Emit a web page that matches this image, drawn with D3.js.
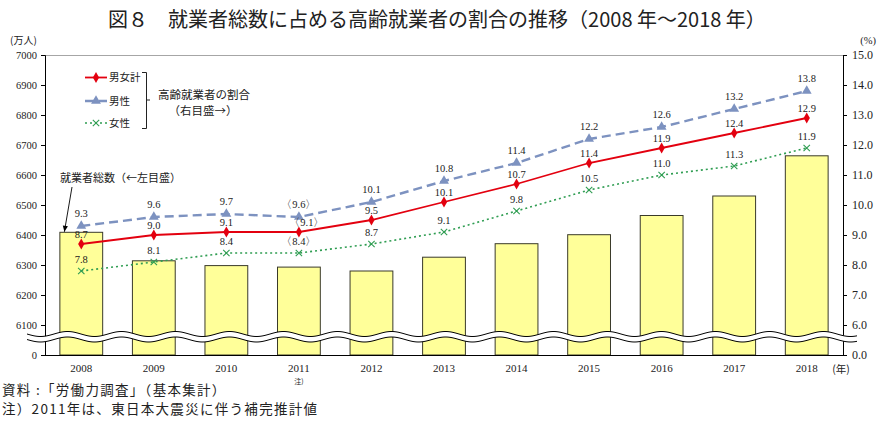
<!DOCTYPE html>
<html><head><meta charset="utf-8">
<script src="https://cdn.jsdelivr.net/npm/d3@7"></script>
<style>
html,body{margin:0;padding:0;background:#fff;}
svg{display:block;}
</style></head>
<body>
<svg id="chart" width="885" height="427"></svg>
<script>
// ---- data ----
const years = ["2008","2009","2010","2011","2012","2013","2014","2015","2016","2017","2018"];
const employedTotal = [6409,6314,6298,6293,6280,6326,6371,6401,6465,6530,6664];
const ratioTotal = [8.7,9.0,9.1,9.1,9.5,10.1,10.7,11.4,11.9,12.4,12.9];
const ratioMale = [9.3,9.6,9.7,9.6,10.1,10.8,11.4,12.2,12.6,13.2,13.8];
const ratioFemale = [7.8,8.1,8.4,8.4,8.7,9.1,9.8,10.5,11.0,11.3,11.9];
const leftTickValues = [6000,6100,6200,6300,6400,6500,6600,6700,6800,6900,7000];
const leftTickLabels = ["0","6100","6200","6300","6400","6500","6600","6700","6800","6900","7000"];
const rightTickValues = [5,6,7,8,9,10,11,12,13,14,15];
const rightTickLabels = ["0.0","6.0","7.0","8.0","9.0","10.0","11.0","12.0","13.0","14.0","15.0"];
const noteYear = "2011";
const seriesNames = ["男女計","男性","女性"];

// ---- layout ----
const svg = d3.select("#chart");
const L = 45, R = 843, T = 55, B = 355;
const JP = "'Noto Sans CJK JP', sans-serif";
const NUM = "'Liberation Serif', serif";

const x = d3.scaleBand().domain(years).range([L, R]).paddingInner(0.41).paddingOuter(0.205);
const yL = d3.scaleLinear().domain([6000, 7000]).range([B, T]);
const yR = d3.scaleLinear().domain([5, 15]).range([B, T]);

// title
svg.append("text").attr("x", 437).attr("y", 27).attr("text-anchor", "middle")
  .attr("font-family", JP).attr("font-size", 20).attr("fill", "#222")
  .text("図８　就業者総数に占める高齢就業者の割合の推移（2008 年～2018 年）");

svg.append("text").attr("x", 10).attr("y", 44).attr("font-family", JP).attr("font-size", 10).attr("fill", "#222").text("(万人)");
svg.append("text").attr("x", 876).attr("y", 44).attr("text-anchor", "end").attr("font-family", NUM).attr("font-size", 10.5).attr("fill", "#222").text("(%)");

// top border
svg.append("line").attr("x1", L).attr("x2", R).attr("y1", T + 0.5).attr("y2", T + 0.5).attr("stroke", "#a6a6a6").attr("stroke-width", 1);

// bars
svg.append("g").selectAll("rect").data(years).join("rect")
  .attr("x", d => x(d)).attr("width", x.bandwidth())
  .attr("y", (d, i) => yL(employedTotal[i])).attr("height", (d, i) => B - yL(employedTotal[i]))
  .attr("fill", "#ffff99").attr("stroke", "#3a3a2a").attr("stroke-width", 1);

// axes
const gl = svg.append("g").attr("transform", `translate(${L},0)`)
  .call(d3.axisLeft(yL).tickValues(leftTickValues).tickSize(4).tickPadding(4)
    .tickFormat((d, i) => leftTickLabels[i]));
const gr = svg.append("g").attr("transform", `translate(${R},0)`)
  .call(d3.axisRight(yR).tickValues(rightTickValues).tickSize(4).tickPadding(5)
    .tickFormat((d, i) => rightTickLabels[i]));
gl.selectAll("text").attr("font-family", NUM).attr("font-size", 10.5).attr("fill", "#222");
gr.selectAll("text").attr("font-family", NUM).attr("font-size", 12).attr("fill", "#222");
[gl, gr].forEach(g => { g.select(".domain").attr("stroke", "#000"); g.selectAll(".tick line").attr("stroke", "#000"); });

const gb = svg.append("g").attr("transform", `translate(0,${B})`)
  .call(d3.axisBottom(x).tickSize(0).tickPadding(9));
gb.select(".domain").attr("stroke", "#000").attr("d", `M${L},0.5H${R}`);
gb.selectAll("text").attr("font-family", NUM).attr("font-size", 11).attr("fill", "#222");
svg.append("text").attr("x", x(noteYear) + x.bandwidth() / 2).attr("y", 384).attr("text-anchor", "middle")
  .attr("font-family", JP).attr("font-size", 7).attr("fill", "#222").text("注)");
svg.append("text").attr("x", 841).attr("y", 373).attr("text-anchor", "middle")
  .attr("font-family", JP).attr("font-size", 10.5).attr("fill", "#222").text("(年)");

// wavy break
(function () {
  const x0 = 27, x1 = 857, P = 54, A = 2.5, base1 = 334, base2 = 339.5;
  const pts = (base) => d3.range(x0, x1 + 0.5, 1).map(xx => [xx, base + A * Math.sin(2 * Math.PI * (xx - x0) / P)]);
  const up = pts(base1), lo = pts(base2);
  const line = d3.line();
  svg.append("path").attr("d", line(up.concat(lo.slice().reverse())) + "Z").attr("fill", "#fff").attr("stroke", "none");
  svg.append("path").attr("d", line(up)).attr("fill", "none").attr("stroke", "#000").attr("stroke-width", 1);
  svg.append("path").attr("d", line(lo)).attr("fill", "none").attr("stroke", "#000").attr("stroke-width", 1);
})();

// series
const cx = d => x(d) + x.bandwidth() / 2;
const series = [
  { name: seriesNames[1], vals: ratioMale, color: "#7d92c0", width: 2.4, dash: "9,5", marker: "triangle", dy: -12.5 },
  { name: seriesNames[2], vals: ratioFemale, color: "#2f9d52", width: 1.6, dash: "2,3", marker: "x", dy: -11.5 },
  { name: seriesNames[0], vals: ratioTotal, color: "#e3000f", width: 1.8, dash: null, marker: "diamond", dy: -10 }
];
const triangle = d3.symbol().type(d3.symbolTriangle).size(42);
const diamond = d3.symbol().type(d3.symbolDiamond).size(34);
function drawMarker(g, s, px, py) {
  if (s.marker === "triangle") {
    g.append("path").attr("d", triangle()).attr("transform", `translate(${px},${py})`).attr("fill", s.color);
  } else if (s.marker === "diamond") {
    g.append("path").attr("d", diamond()).attr("transform", `translate(${px},${py})`).attr("fill", s.color);
  } else {
    const r = 3.2;
    g.append("path").attr("d", `M${px - r},${py - r}L${px + r},${py + r}M${px - r},${py + r}L${px + r},${py - r}`)
      .attr("stroke", s.color).attr("stroke-width", 1.1).attr("fill", "none");
  }
}
series.forEach(s => {
  const g = svg.append("g");
  const line = d3.line().x((d, i) => cx(years[i])).y(d => yR(d));
  g.append("path").datum(s.vals).attr("d", line).attr("fill", "none").attr("stroke", s.color)
    .attr("stroke-width", s.width).attr("stroke-dasharray", s.dash);
  s.vals.forEach((v, i) => drawMarker(g, s, cx(years[i]), yR(v)));
});
// labels
series.forEach(s => {
  s.vals.forEach((v, i) => {
    const isNote = years[i] === noteYear;
    const shift = (isNote && s.name === seriesNames[0]) ? 8 : 0;
    svg.append("text").attr("x", cx(years[i]) + shift).attr("y", yR(v) + s.dy)
      .attr("dy", "0.35em").attr("text-anchor", "middle")
      .attr("font-family", NUM).attr("font-size", 10.5).attr("fill", "#222")
      .text(isNote ? "〈" + v.toFixed(1) + "〉" : v.toFixed(1));
  });
});

// legend
const legendSeries = [series[2], series[0], series[1]];
const legY = [77.5, 101, 123];
legendSeries.forEach((s, i) => {
  const g = svg.append("g");
  g.append("line").attr("x1", 85).attr("x2", 107).attr("y1", legY[i]).attr("y2", legY[i])
    .attr("stroke", s.color).attr("stroke-width", s.width).attr("stroke-dasharray", s.dash);
  drawMarker(g, s, 96, legY[i]);
  g.append("text").attr("x", 109).attr("y", legY[i]).attr("dy", "0.35em")
    .attr("font-family", JP).attr("font-size", 10.5).attr("fill", "#222").text(s.name);
});
svg.append("path").attr("d", "M142,72.5H146.5V128.5H142M146.5,100H150").attr("fill", "none").attr("stroke", "#222").attr("stroke-width", 1);
svg.append("text").attr("x", 204).attr("y", 95).attr("dy", "0.35em").attr("text-anchor", "middle")
  .attr("font-family", JP).attr("font-size", 11.5).attr("fill", "#222").text("高齢就業者の割合");
svg.append("text").attr("x", 203).attr("y", 110.5).attr("dy", "0.35em").attr("text-anchor", "middle")
  .attr("font-family", JP).attr("font-size", 11.5).attr("fill", "#222").text("（右目盛→）");

// bar annotation
svg.append("text").attr("x", 60).attr("y", 178).attr("dy", "0.35em")
  .attr("font-family", JP).attr("font-size", 11).attr("fill", "#222").text("就業者総数（←左目盛）");
const ax1 = 72, ay1 = 187, ax2 = x(years[0]) + 4.5, ay2 = yL(employedTotal[0]) - 0.5;
svg.append("line").attr("x1", ax1).attr("y1", ay1).attr("x2", ax2).attr("y2", ay2).attr("stroke", "#000").attr("stroke-width", 0.9);
(function () {
  const ang = Math.atan2(ay2 - ay1, ax2 - ax1), len = 6, w = 2.6;
  const bx = ax2 - len * Math.cos(ang), by = ay2 - len * Math.sin(ang);
  const px = -Math.sin(ang) * w, py = Math.cos(ang) * w;
  svg.append("path").attr("d", `M${ax2},${ay2}L${bx + px},${by + py}L${bx - px},${by - py}Z`).attr("fill", "#000");
})();

// notes
svg.append("text").attr("x", 2).attr("y", 390).attr("dy", "0.35em")
  .attr("font-family", JP).attr("font-size", 13.5).attr("letter-spacing", 1.3).attr("fill", "#222").text("資料 :「労働力調査」（基本集計）");
svg.append("text").attr("x", 2).attr("y", 409).attr("dy", "0.35em")
  .attr("font-family", JP).attr("font-size", 13.5).attr("letter-spacing", 1.3).attr("fill", "#222").text("注）2011年は、東日本大震災に伴う補完推計値");
</script>
</body></html>
